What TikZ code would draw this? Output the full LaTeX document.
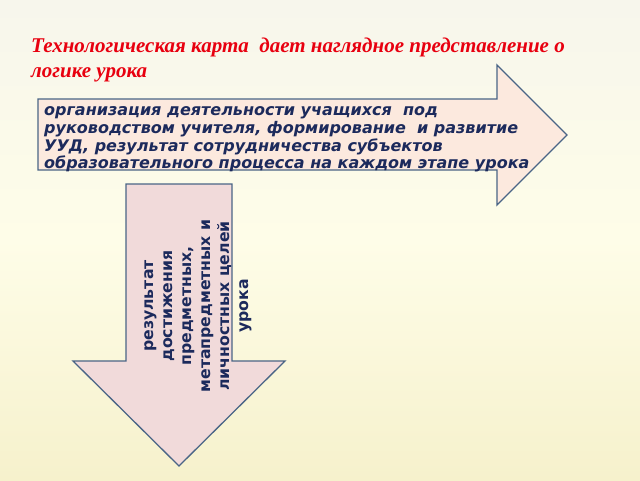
\documentclass[tikz,border=0pt]{standalone}
\usepackage{fontspec}
\setmainfont{Liberation Serif}
\newfontfamily\bodyfont{DejaVu Sans}
\definecolor{bgtop}{HTML}{F7F6EC}
\definecolor{bgmid}{HTML}{FEFDE8}
\definecolor{bgbot}{HTML}{F6F1CC}
\definecolor{edgeblue}{HTML}{4A6586}
\definecolor{peach}{HTML}{FCE9DE}
\definecolor{pinkfill}{HTML}{F1DADA}
\definecolor{navytext}{HTML}{1C2A5C}
\definecolor{titlered}{HTML}{E8000F}
\tikzset{
  arrowshape/.style={draw=edgeblue, line width=1.3pt, line join=miter},
  righttext/.style={text=navytext, font=\bodyfont\bfseries\itshape\fontsize{16}{17.8}\selectfont, inner sep=0pt},
  downtext/.style={text=navytext, font=\bodyfont\bfseries\fontsize{15.7}{19}\selectfont, inner sep=0pt},
  titletext/.style={text=titlered, font=\bfseries\itshape\fontsize{21}{25}\selectfont, inner sep=0pt}
}
\begin{document}
\begin{tikzpicture}[x=1pt, y=-1pt]
\useasboundingbox (0,0) rectangle (640,480);
\shade[top color=bgtop, bottom color=bgbot, middle color=bgmid] (0,0) rectangle (640,480);
% right arrow
\draw[arrowshape, fill=peach] (38,99) -- (497,99) -- (497,65) -- (567,135) -- (497,205) -- (497,170) -- (38,170) -- cycle;
% down arrow
\draw[arrowshape, fill=pinkfill] (126,184) -- (232,184) -- (232,361) -- (285,361) -- (179,466) -- (73,361) -- (126,361) -- cycle;
\node[titletext, anchor=base west] (title1) at (31,52) {Технологическая карта\ \ дает наглядное представление о};
\node[titletext, anchor=base west] (title2) at (31,77) {логике урока};
\node[righttext, anchor=base west, align=left] (r1) at (44,115) {организация деятельности учащихся\ \ под};
\node[righttext, anchor=base west] (r2) at (44,133) {руководством учителя, формирование\ \ и развитие};
\node[righttext, anchor=base west] (r3) at (44,151) {УУД, результат сотрудничества субъектов};
\node[righttext, anchor=base west] (r4) at (44,168.5) {образовательного процесса на каждом этапе урока};
\node[downtext, rotate=90, align=center] (dtext) at (198,306) {результат\\достижения\\предметных,\\метапредметных и\\личностных целей\\урока};
\end{tikzpicture}
\end{document}
